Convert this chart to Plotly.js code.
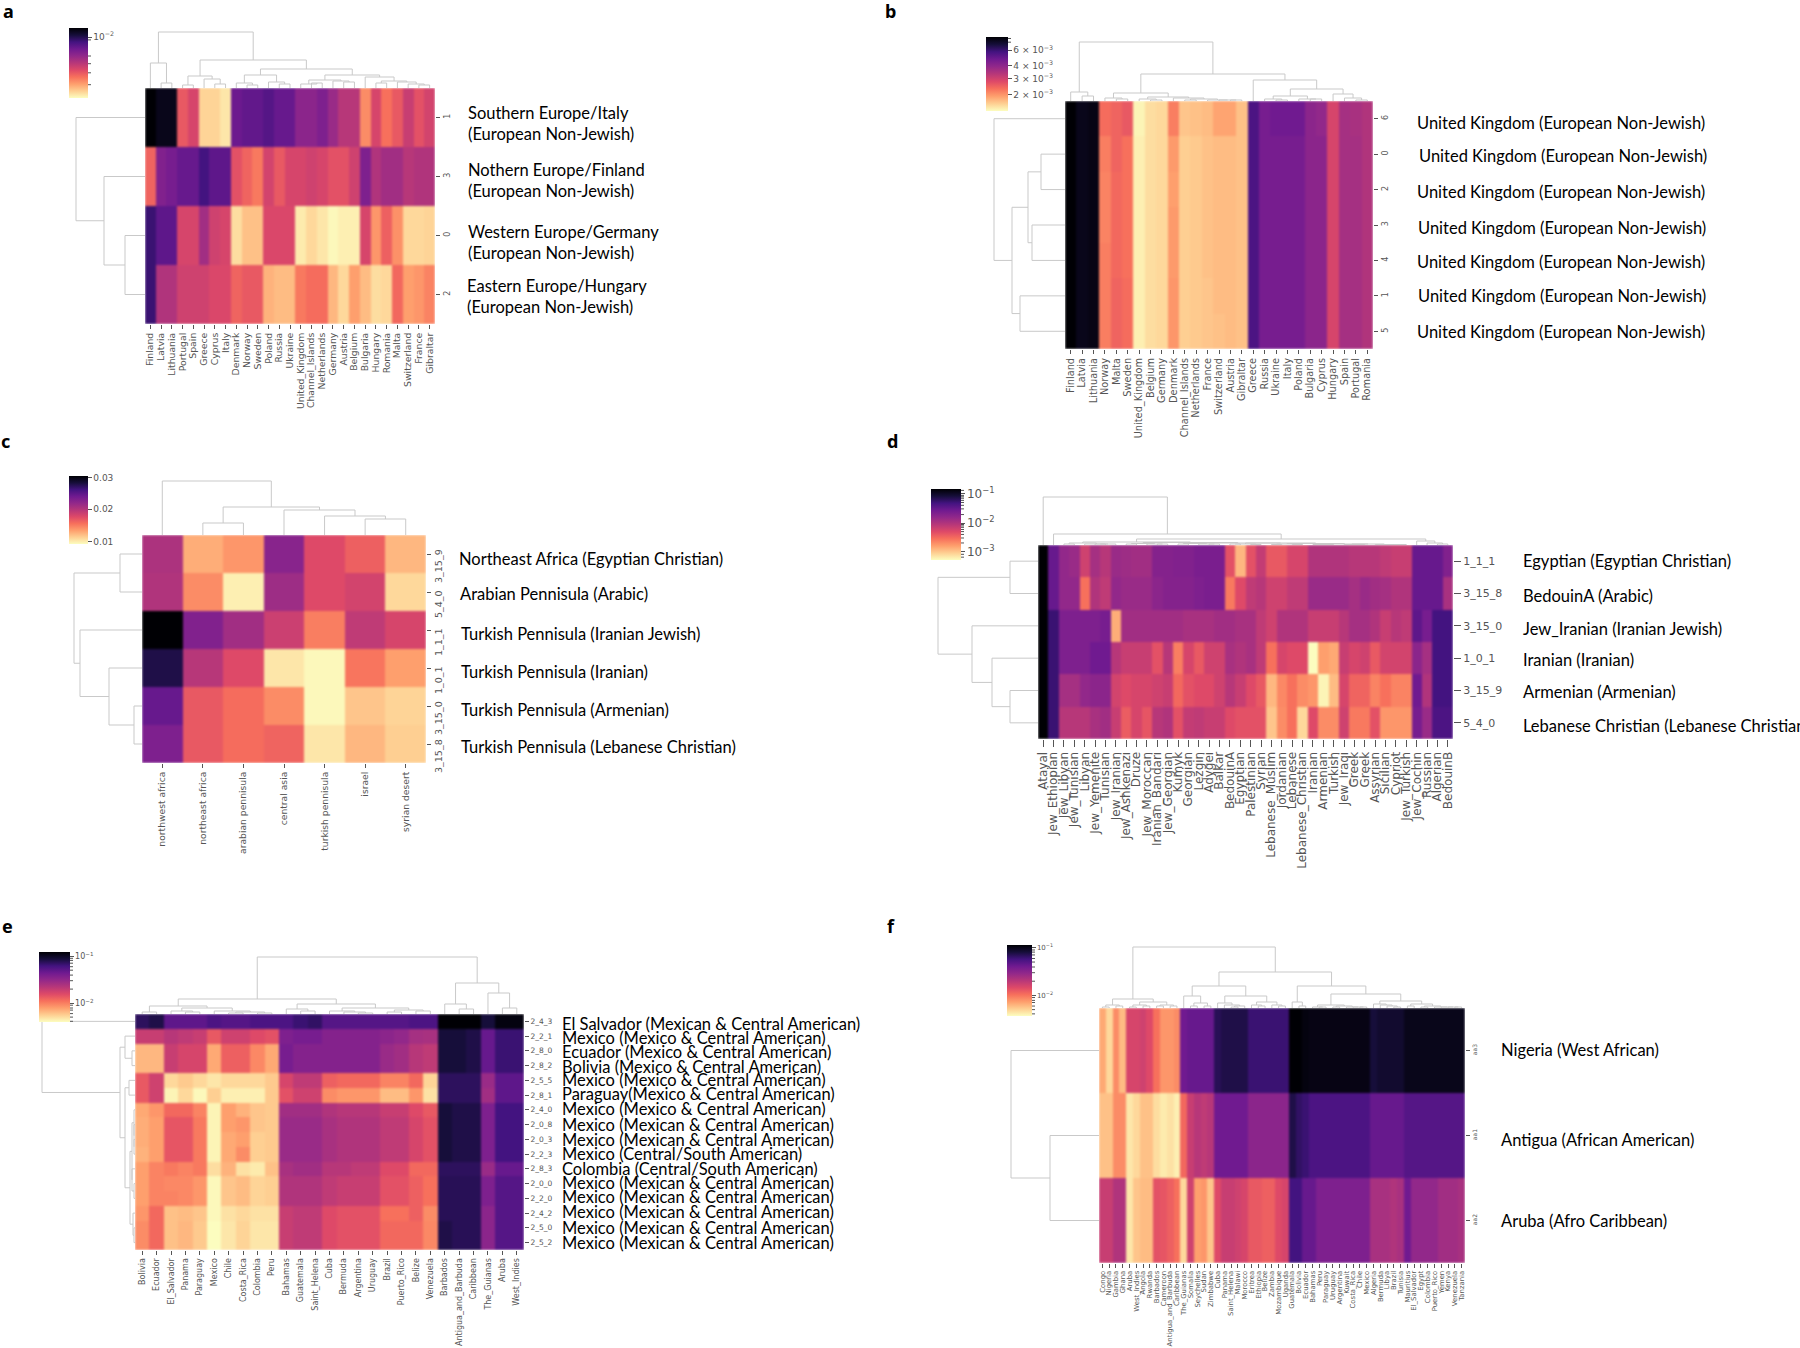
<!DOCTYPE html>
<html><head><meta charset="utf-8">
<script src="https://cdn.plot.ly/plotly-3.0.1.min.js"></script>
<style>html,body{margin:0;padding:0;background:#fff}#g{width:1800px;height:1348px}.hm image{filter:blur(0.8px)}</style>
</head><body><div id="g"></div>
<script>
// ---------- DATA: z values are read as positions (0-100) along the reversed magma scale ----------
const colsA=["Finland","Latvia","Lithuania","Portugal","Spain","Greece","Cyprus","Italy","Denmark","Norway","Sweden","Poland","Russia","Ukraine","United_Kingdom","Channel_Islands","Netherlands","Germany","Austria","Belgium","Bulgaria","Hungary","Romania","Malta","Switzerland","France","Gibraltar"];
const rowsA=["1","3","0","2"];
const zA=[
[100,96,96,36,42,9,9,5,71,73,73,76,72,72,62,62,66,58,50,50,24,42,30,36,46,38,43],
[33,65,68,72,72,80,74,74,38,33,28,43,36,42,42,44,42,38,38,44,66,52,56,56,50,52,52],
[82,74,74,42,42,56,44,42,7,13,13,41,41,41,4,8,5,1,3,3,42,22,34,23,8,8,9],
[82,52,52,44,44,44,41,41,33,36,36,16,14,14,28,31,31,15,8,20,14,7,8,32,20,22,26]];
const treeColA=[56,[25,0,[5,1,2]],[28,[12,[3,3,4],[9,5,[4,6,7]]],[19,[13,[5,8,[3,9,10]],[6,11,[4,12,13]]],[13,[8,[4,14,[5,15,16]],[7,17,[6,18,19]]],[11,20,[7,[5,21,22],[6,23,[4,24,[3,25,26]]]]]]]]];
const treeRowA=[69,0,[41,1,[20,2,3]]];
const labelsA=["Southern Europe/Italy<br>(European Non-Jewish)","Nothern Europe/Finland<br>(European Non-Jewish)","Western Europe/Germany<br>(European Non-Jewish)","Eastern Europe/Hungary<br>(European Non-Jewish)"];

const colsB=["Finland","Latvia","Lithuania","Norway","Malta","Sweden","United_Kingdom","Belgium","Germany","Denmark","Channel_Islands","Netherlands","France","Switzerland","Austria","Gibraltar","Greece","Russia","Ukraine","Italy","Poland","Bulgaria","Cyprus","Hungary","Spain","Portugal","Romania"];
const rowsB=["6","0","2","3","4","1","5"];
const zB=[
[100,96,97,31,33,36,2,7,8,27,12,13,14,19,19,13,78,68,70,70,70,62,60,42,55,54,52],
[100,96,97,27,33,30,3,7,8,21,10,11,13,14,14,13,78,68,68,68,68,62,62,42,55,55,52],
[100,96,97,26,32,30,3,7,8,20,10,11,13,14,14,13,78,68,68,68,68,62,62,42,55,55,52],
[100,96,97,26,32,30,3,7,8,21,10,11,13,14,14,13,78,68,68,68,68,62,62,42,55,55,52],
[100,96,97,27,32,30,3,7,8,21,10,11,13,14,14,13,78,68,68,68,68,62,62,42,55,55,52],
[100,96,97,27,33,31,3,7,8,22,10,11,12,14,14,13,78,68,68,68,68,62,62,42,55,55,52],
[100,96,97,27,33,31,3,7,8,22,10,11,12,13,14,13,78,68,68,68,68,62,62,42,55,55,52]];
const treeColB=[59,[9,0,[5,1,2]],[27,[8,[3,3,[2,4,5]],[4,[2,6,[1,7,8]],[3,9,[2,[1,10,11],[1,12,[1,13,[1,14,15]]]]]]],[21,16,[12,[5,[2,17,[1,18,19]],[2,20,[2,21,22]]],[7,23,[3,24,[1,25,26]]]]]]];
const treeRowB=[71,0,[53,[37,[24,1,2],[33,3,4]],[45,5,6]]];
const labelsB=["United Kingdom (European Non-Jewish)","United Kingdom (European Non-Jewish)","United Kingdom (European Non-Jewish)","United Kingdom (European Non-Jewish)","United Kingdom (European Non-Jewish)","United Kingdom (European Non-Jewish)","United Kingdom (European Non-Jewish)"];

const colsC=["northwest africa","northeast africa","arabian pennisula","central asia","turkish pennisula","israel","syrian desert"];
const rowsC=["3_15_9","5_4_0","1_1_1","1_0_1","3_15_0","3_15_8"];
const zC=[
[53,17,22,63,40,34,15],
[52,24,3,57,40,43,8],
[100,65,56,45,27,48,42],
[88,50,40,5,1,29,20],
[72,36,31,24,1,12,9],
[66,36,31,33,5,15,10]];
const treeColC=[54,0,[28,[12,1,2],[25,3,[19,4,[16,5,6]]]]];
const treeRowC=[68,[22,0,1],[62,2,[33,3,[8,4,5]]]];
const labelsC=["Northeast Africa (Egyptian Christian)","Arabian Pennisula (Arabic)","Turkish Pennisula (Iranian Jewish)","Turkish Pennisula (Iranian)","Turkish Pennisula (Armenian)","Turkish Pennisula (Lebanese Christian)"];

const colsD=["Atayal","Jew_Ethiopian","Jew_Libyan","Jew_Tunisian","Libyan","Jew_Yemenite","Tunisian","Jew_Iranian","Jew_Ashkenazi","Druze","Jew_Moroccan","Iranian_Bandari","Jew_Georgian","Kumyk","Georgian","Lezgin","Adygei","Balkar","BedouinA","Egyptian","Palestinian","Syrian","Lebanese_Muslim","Jordanian","Lebanese","Lebanese_Christian","Iranian","Armenian","Turkish","Jew_Iraqi","Greek","Greek","Assyrian","Sicilian","Cypriot","Jew_Turkish","Jew_Cochin","Russian","Algerian","BedouinB"];
const rowsD=["1_1_1","3_15_8","3_15_0","1_0_1","3_15_9","5_4_0"];
const zD=[
[100,72,60,58,44,55,50,58,57,56,56,64,64,65,65,67,67,67,38,15,38,47,36,36,42,42,52,52,52,52,50,50,50,48,46,46,72,72,72,65],
[100,72,60,60,30,52,48,60,58,58,58,62,64,64,64,66,67,67,28,40,48,50,44,44,48,48,58,58,58,58,55,58,56,55,52,52,72,72,72,54],
[100,82,66,66,66,66,68,17,56,56,56,56,56,56,54,54,54,56,56,54,54,48,44,52,52,52,46,46,46,50,55,55,52,46,50,48,74,68,80,80],
[100,82,66,66,66,70,70,50,46,46,46,38,50,27,42,36,44,44,54,52,54,48,30,42,40,40,0,20,18,46,42,44,36,43,43,43,62,55,80,80],
[100,82,55,55,60,62,62,43,40,42,42,44,46,32,38,40,40,44,50,46,40,36,15,25,30,24,22,2,14,42,33,33,26,30,26,26,70,52,80,80],
[100,82,50,50,50,54,56,46,35,42,37,50,52,38,47,48,46,46,40,38,38,38,12,24,30,8,40,24,24,44,28,28,38,22,22,22,68,58,78,78]];
const treeColD=[48,0,[11,1,[6,[3,[2,[1,2,3],[1,4,[1,[1,5,6],7]]],[2.5,[1.5,[1,8,9],[1,10,[1,11,12]]],[2,[1.5,[1,13,14],[1,15,[1,16,17]]],[2,[1,[1,18,19],[.5,20,21]],[1.5,[1,[.5,22,23],[.5,24,25]],[1,[.5,26,[.5,27,28]],[1,[.5,29,[.5,30,31]],[.5,32,[.5,33,[.5,34,35]]]]]]]]]],[4,36,[2,37,[1,38,39]]]]]];
const treeRowD=[100,[28,0,1],[66,2,[46,3,[28,4,5]]]];
const labelsD=["Egyptian (Egyptian Christian)","BedouinA (Arabic)","Jew_Iranian (Iranian Jewish)","Iranian (Iranian)","Armenian (Armenian)","Lebanese Christian (Lebanese Christian)"];

const colsE=["Bolivia","Ecuador","El_Salvador","Panama","Paraguay","Mexico","Chile","Costa_Rica","Colombia","Peru","Bahamas","Guatemala","Saint_Helena","Cuba","Bermuda","Argentina","Uruguay","Brazil","Puerto_Rico","Belize","Venezuela","Barbados","Antigua_and_Barbuda","Caribbean","The_Guianas","Aruba","West_Indies"];
const rowsE=["2_4_3","2_2_1","2_8_0","2_8_2","2_5_5","2_8_1","2_4_0","2_0_8","2_0_3","2_2_3","2_8_3","2_0_0","2_2_0","2_4_2","2_5_0","2_5_2"];
const zE=[
[85,88,74,74,74,78,76,76,78,78,78,82,84,76,76,76,76,76,76,78,78,100,100,100,90,98,98],
[46,46,50,48,46,36,44,44,40,38,66,68,68,64,64,64,64,62,60,55,54,90,90,88,72,82,82],
[15,15,46,42,42,18,34,34,25,18,68,64,64,64,64,64,64,58,56,50,48,90,90,88,72,82,82],
[15,15,46,42,42,18,34,34,25,18,68,64,64,64,64,64,64,58,56,50,48,90,90,88,72,82,82],
[36,44,8,11,8,5,8,8,8,11,42,48,48,34,32,32,32,26,26,32,9,85,85,85,58,74,74],
[36,44,2,8,1,10,3,3,3,11,38,44,44,24,22,22,22,14,14,22,6,85,85,85,56,74,74],
[18,22,32,32,26,2,20,16,12,11,56,56,56,52,50,50,50,46,46,40,36,90,88,88,66,80,80],
[17,20,37,37,28,2,20,22,12,11,58,58,58,54,52,52,52,48,48,42,38,90,88,88,66,80,80],
[17,20,37,37,28,2,18,20,10,11,58,58,58,54,52,52,52,48,48,42,38,90,88,88,66,80,80],
[16,20,37,37,28,2,18,24,10,11,58,58,58,54,52,52,52,48,48,42,38,90,88,88,66,80,80],
[20,26,28,26,28,7,16,6,4,13,54,56,56,50,50,48,48,40,40,32,32,85,85,85,58,72,72],
[20,26,25,25,22,1,12,14,9,10,52,52,52,48,46,46,46,38,38,34,30,86,86,86,66,76,76],
[20,26,26,25,22,1,12,14,9,10,52,52,52,48,46,46,46,38,38,34,30,86,86,86,66,76,76],
[22,32,13,14,12,1,6,8,6,6,46,48,48,40,38,38,38,30,30,34,24,86,86,86,62,76,76],
[24,32,13,15,11,0,5,9,5,5,46,48,48,40,38,38,38,32,32,32,25,88,86,86,62,76,76],
[24,32,13,15,11,0,5,9,5,5,46,48,48,40,38,38,38,32,32,32,25,88,86,86,62,76,76]];
const treeColE=[57,[15,[8,[2,0,1],[6,[3,2,[2,3,4]],[3,5,[2,[1,6,7],[1,8,9]]]]],[10,[5,10,[3,11,12]],[6,[3,13,[2,14,[1,15,16]]],[4,[2,17,18],[3,19,20]]]]],[31,[10,21,[5,22,23]],[21,24,[6,25,26]]]];
const treeRowE=[93,0,[15,[10,1,[3,2,3]],[10,[6,4,5],[5,[3,[1,6,[1,7,[1,8,9]]],[3,10,[1,11,12]]],[2,13,[1,14,15]]]]]];
const labelsE=["El Salvador (Mexican & Central American)","Mexico (Mexico & Central American)","Ecuador (Mexico & Central American)","Bolivia (Mexico & Central American)","Mexico (Mexico & Central American)","Paraguay(Mexico & Central American)","Mexico (Mexico & Central American)","Mexico (Mexican & Central American)","Mexico (Mexican & Central American)","Mexico (Central/South American)","Colombia (Central/South American)","Mexico (Mexican & Central American)","Mexico (Mexican & Central American)","Mexico (Mexican & Central American)","Mexico (Mexican & Central American)","Mexico (Mexican & Central American)"];

const colsF=["Congo","Nigeria","Gambia","Ghana","Aruba","West_Indies","Angola","Rwanda","Barbados","Cameroon","Antigua_and_Barbuda","Caribbean","The_Guianas","Somalia","Seychelles","Sudan","Zimbabwe","Cuba","Panama","Saint_Helena","Malawi","Morocco","Eritrea","Ethiopia","Belize","Zambia","Mozambique","Uganda","Guatemala","Bolivia","Ecuador","Bahamas","Peru","Paraguay","Uruguay","Argentina","Kuwait","Costa_Rica","Chile","Mexico","Algeria","Bermuda","Libya","Brazil","Tunisia","Mauritius","El_Salvador","Egypt","Colombia","Puerto_Rico","Yemen","Kenya","Venezuela","Tanzania"];
const rowsF=["aa3","aa1","aa2"];
const zF=[
[18,8,24,14,42,42,44,40,30,22,22,24,70,72,72,72,72,86,88,88,88,88,82,82,82,82,82,82,100,100,98,97,97,97,97,97,97,97,97,97,90,92,92,92,92,96,96,96,96,96,96,96,96,96],
[13,13,24,24,5,8,13,13,7,4,6,3,32,46,50,48,50,70,70,70,70,70,62,62,62,62,62,62,88,84,82,78,78,78,78,78,78,78,78,78,72,72,72,72,72,76,76,76,76,76,76,76,76,76],
[46,46,52,52,5,12,14,14,38,37,34,30,8,44,20,22,12,40,46,46,44,42,36,36,34,34,40,42,80,80,72,72,66,66,66,66,66,66,66,66,54,54,54,52,54,70,60,60,60,60,56,56,56,54]];
const treeColF=[61,[9,[3,[1,0,1],[2,2,3]],[6,[3,[1,4,5],[2,6,7]],[3,[2,8,9],[2,10,11]]]],[36,[22,[12,12,[5,[2,13,14],[2,15,16]]],[12,[5,17,[3,18,[2,[1,19,20],21]]],[6,[3,22,[2,23,24]],[3,25,[2,26,27]]]]],[22,[6,28,[2,29,30]],[14,[3,[1,31,[1,32,33]],[2,[1,34,35],[1,36,[1,37,[1,38,39]]]]],[7,[4,40,[3,41,[2,42,[1,43,44]]]],[4,[2,45,46],[2,[1,47,48],[1,49,[1,50,[1,51,[1,52,53]]]]]]]]]]];
const treeRowF=[88,0,[49,1,2]];
const labelsF=["Nigeria (West African)","Antigua (African American)","Aruba (Afro Caribbean)"];

// colour-bar tick positions on the 0-100 scale, with their texts
const cbTicksA=[87];               const cbTextA=["10<sup>−2</sup>"];                const cbMinorA=[83,60,49,36,19];
const cbTicksB=[82,61,44,22];      const cbTextB=["6 × 10<sup>−3</sup>","4 × 10<sup>−3</sup>","3 × 10<sup>−3</sup>","2 × 10<sup>−3</sup>"]; const cbMinorB=[98,93];
const cbTicksC=[98,51,3];          const cbTextC=["0.03","0.02","0.01"];              const cbMinorC=[];
const cbTicksD=[93,52,12];         const cbTextD=["10<sup>−1</sup>","10<sup>−2</sup>","10<sup>−3</sup>"]; const cbMinorD=[98,91,89,87,84,81,77,72,64,50,48,46,43,40,36,31,24,8,4];
const cbTicksE=[94,27];            const cbTextE=["10<sup>−1</sup>","10<sup>−2</sup>"]; const cbMinorE=[91,88,84,79,74,67,59,47,24,20,17,12,7,1];
const cbTicksF=[96,29];            const cbTextF=["10<sup>−1</sup>","10<sup>−2</sup>"]; const cbMinorF=[93,90,86,81,76,69,61,49,26,22,19,14,9,3];

// ---------- LAYOUT in page pixels ----------
const W=1800,H=1348;
const magmaR=[[0,'#fcfdbf'],[.1,'#fecf92'],[.2,'#fe9f6d'],[.3,'#f7705c'],[.4,'#de4968'],[.5,'#b73779'],[.6,'#92288a'],[.7,'#701a90'],[.8,'#431380'],[.9,'#160e3a'],[1,'#000004']];
const panels=[
{letter:'a',lx:1,ly:11,x0:145,x1:435,y0:88,y1:324,cb:[69,28,19,70],cols:colsA,rows:rowsA,z:zA,tc:treeColA,tr:treeRowA,labels:labelsA,lax:[466,466,466,465],lay:[123,180,242,296],fs:9.3,rfs:8,rang:-90,tl:4,cbt:cbTicksA,cbl:cbTextA,cbm:cbMinorA,cbf:9},
{letter:'b',lx:883,ly:11,x0:1065,x1:1373,y0:101,y1:349,cb:[986,37,22,74],cols:colsB,rows:rowsB,z:zB,tc:treeColB,tr:treeRowB,labels:labelsB,lax:[1415,1417,1415,1416,1415,1416,1415],lay:[123,156,192,228,262,296,332],fs:9.8,rfs:8,rang:-90,tl:4,cbt:cbTicksB,cbl:cbTextB,cbm:cbMinorB,cbf:9},
{letter:'c',lx:-1,ly:441,x0:142,x1:426,y0:535,y1:763,cb:[69,476,19,68],cols:colsC,rows:rowsC,z:zC,tc:treeColC,tr:treeRowC,labels:labelsC,lax:[457,458,459,459,459,459],lay:[559,594,634,672,710,747],fs:9.2,rfs:9.5,rang:-90,tl:4,pad:'\u00A0'.repeat(9),cbt:cbTicksC,cbl:cbTextC,cbm:cbMinorC,cbf:9},
{letter:'d',lx:885,ly:441,x0:1038,x1:1453,y0:545,y1:739,cb:[931,489,30,71],cols:colsD,rows:rowsD,z:zD,tc:treeColD,tr:treeRowD,labels:labelsD,lax:[1521,1521,1521,1521,1521,1521],lay:[561,596,629,660,692,726],fs:12,rfs:11,rang:0,tl:7,cbt:cbTicksD,cbl:cbTextD,cbm:cbMinorD,cbf:12},
{letter:'e',lx:0,ly:926,x0:135,x1:524,y0:1014,y1:1250,cb:[39,952,31,70],cols:colsE,rows:rowsE,z:zE,tc:treeColE,tr:treeRowE,labels:labelsE,lax:[560,560,560,560,560,560,560,560,560,560,560,560,560,560,560,560],lay:[1024,1038,1052,1067,1080,1094,1109,1125,1140,1154,1169,1183,1197,1212,1228,1243],fs:8,rfs:7.5,rang:0,tl:4,cbt:cbTicksE,cbl:cbTextE,cbm:cbMinorE,cbf:8},
{letter:'f',lx:885,ly:926,x0:1099,x1:1465,y0:1008,y1:1263,cb:[1007,945,25,71],cols:colsF,rows:rowsF,z:zF,tc:treeColF,tr:treeRowF,labels:labelsF,lax:[1499,1499,1499],lay:[1050,1140,1221],fs:6.9,rfs:6,rang:-90,tl:4,cbt:cbTicksF,cbl:cbTextF,cbm:cbMinorF,cbf:7}
];

const px=x=>x/W, py=y=>1-y/H;
const data=[],layout={width:W,height:H,margin:{l:0,r:0,t:0,b:0,autoexpand:false},paper_bgcolor:'#fff',plot_bgcolor:'#fff',showlegend:false,annotations:[],shapes:[]};
let ax=0;
function addAxes(xa,ya){ax++;const s=ax===1?'':ax;layout['xaxis'+s]=Object.assign({anchor:'y'+s},xa);layout['yaxis'+s]=Object.assign({anchor:'x'+s},ya);return ['x'+s,'y'+s];}
const hidden={showgrid:false,zeroline:false,showticklabels:false,ticks:'',showline:false};
function walk(t,xs,ys){
  if(typeof t==='number')return{p:t,h:0};
  const a=walk(t[1],xs,ys),b=walk(t[2],xs,ys);
  xs.push(a.p,a.p,b.p,b.p,null);ys.push(a.h,t[0],t[0],b.h,null);
  return{p:(a.p+b.p)/2,h:t[0]};
}
const dl={color:'#c9c9c9',width:1};
panels.forEach(p=>{
  const nx=p.cols.length,ny=p.rows.length;
  const tf=s=>({family:'"DejaVu Sans"',size:s,color:'#555'});
  const [hx,hy]=addAxes(
    {domain:[px(p.x0),px(p.x1)],range:[-.5,nx-.5],tickmode:'array',tickvals:p.cols.map((_,i)=>i),ticktext:p.cols,tickangle:-90,tickfont:tf(p.fs),ticks:'outside',ticklen:p.tl,tickwidth:1,tickcolor:'#555',showgrid:false,zeroline:false,showline:false},
    {domain:[py(p.y1),py(p.y0)],range:[ny-.5,-.5],side:'right',tickmode:'array',tickvals:p.rows.map((_,i)=>i),ticktext:p.rows.map(r=>r+(p.pad||'')),tickangle:p.rang,tickfont:tf(p.rfs),ticks:'outside',ticklen:p.tl,tickwidth:1,tickcolor:'#555',showgrid:false,zeroline:false,showline:false});
  data.push({type:'heatmap',x:p.cols.map((_,i)=>i),y:p.rows.map((_,i)=>i),z:p.z,xaxis:hx,yaxis:hy,zmin:0,zmax:100,colorscale:magmaR,hoverinfo:'skip',
    colorbar:{x:px(p.cb[0]),xanchor:'left',y:py(p.cb[1]),yanchor:'top',len:p.cb[3],lenmode:'pixels',thickness:p.cb[2],thicknessmode:'pixels',xpad:0,ypad:0,outlinewidth:0,tickmode:'array',tickvals:p.cbt,ticktext:p.cbl,ticks:'outside',ticklen:4,tickcolor:'#555',tickfont:tf(p.cbf)}});
  // minor colour-bar ticks
  p.cbm.forEach(l=>{const yy=p.cb[1]+p.cb[3]*(1-l/100);layout.shapes.push({type:'line',xref:'paper',yref:'paper',x0:px(p.cb[0]+p.cb[2]),x1:px(p.cb[0]+p.cb[2]+3),y0:py(yy),y1:py(yy),line:{color:'#555',width:1}});});
  // column dendrogram
  const hc=p.tc[0]+1, [cx,cy]=addAxes(Object.assign({domain:[px(p.x0),px(p.x1)],range:[-.5,nx-.5]},hidden),Object.assign({domain:[py(p.y0),py(p.y0-hc)],range:[0,hc]},hidden));
  let xs=[],ys=[];walk(p.tc,xs,ys);
  data.push({type:'scatter',mode:'lines',x:xs,y:ys,xaxis:cx,yaxis:cy,line:dl,hoverinfo:'skip'});
  // row dendrogram
  const hr=p.tr[0]+1, [rx,ry]=addAxes(Object.assign({domain:[px(p.x0-hr),px(p.x0)],range:[hr,0]},hidden),Object.assign({domain:[py(p.y1),py(p.y0)],range:[ny-.5,-.5]},hidden));
  xs=[];ys=[];walk(p.tr,xs,ys);
  data.push({type:'scatter',mode:'lines',x:ys,y:xs,xaxis:rx,yaxis:ry,line:dl,hoverinfo:'skip'});
  // panel letter and row captions
  layout.annotations.push({xref:'paper',yref:'paper',x:px(p.lx),y:py(p.ly),text:'<b>'+p.letter+'</b>',showarrow:false,xanchor:'left',yanchor:'middle',font:{family:'"Noto Sans"',size:18,color:'#000'}});
  p.labels.forEach((t,i)=>layout.annotations.push({xref:'paper',yref:'paper',x:px(p.lax[i]),y:py(p.lay[i]),text:t,showarrow:false,xanchor:'left',yanchor:'middle',align:'left',font:{family:'Lato,"Noto Sans"',size:16.5,color:'#000'}}));
});
Plotly.newPlot('g',data,layout,{displayModeBar:false,staticPlot:true});
</script></body></html>
